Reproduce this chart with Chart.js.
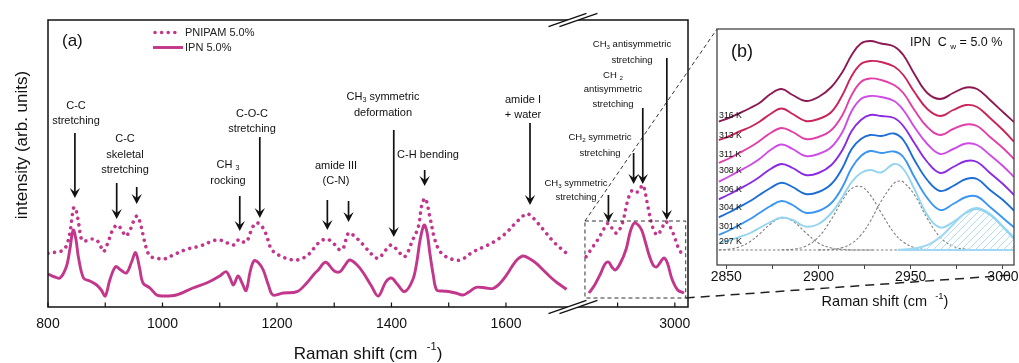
<!DOCTYPE html>
<html><head><meta charset="utf-8">
<script src="https://cdn.jsdelivr.net/npm/chart.js@4.4.1/dist/chart.umd.min.js"></script>
<style>
html,body{margin:0;padding:0;background:#fff;}
#wrap{position:relative;width:1019px;height:363px;overflow:hidden;background:#fff;}
#ca{position:absolute;left:0;top:0;}
#cb{position:absolute;left:700px;top:0;}
</style></head><body>
<div id="wrap"><canvas id="ca" width="1019" height="363"></canvas><canvas id="cb" width="319" height="363"></canvas></div>
<script>
// ---------------- DATA: panel (a) ----------------
const pnipamLeftX = [800,815,827,834,839,845,849,854,859,865,872,880,885,891,897,905,913,921,929,936,945,951,956,962,968,974,979,990,1001,1019,1042,1066,1089,1100,1112,1124,1130,1135,1141,1147,1154,1162,1170,1179,1185,1191,1211,1234,1252,1265,1275,1287,1298,1310,1316,1325,1335,1351,1365,1377,1390,1400,1410,1423,1437,1447,1453,1459,1467,1475,1485,1500,1520,1543,1565,1584,1600,1619,1635,1642,1656,1670,1683,1695,1706];
const pnipamLeftY = [53.7,55,57,64,77,99.7,97,82,67,66,67.7,68,67,62,55.3,65,77,82,77,71,79,88,91,82,67,55,50.3,49,47.7,52,57.7,61,66.3,67,64.3,62,66,67.7,65,65.3,75,83.7,83,75.3,66,57,49.7,47,51,59,65.3,68,64,57,59,74,71,62,53,48.7,57,62,57,50.3,67,80.3,102,108.7,90.3,69,55.3,49,47,55.3,61,67,74,85.3,93,92,83.7,74,65.3,59,53.7];
const pnipamRightX = [2845,2857,2865,2872,2883,2890,2898,2905,2910,2918,2926,2935,2944,2948,2953,2961,2969,2976,2984,2991,2997,3008,3017];
const pnipamRightY = [50.3,60.3,67,73.7,83.7,79,73.7,79,87,107,117,115,122,115,100.3,80.3,72,77,85.3,81,73.7,57,50.3];
const ipnLeftX = [800,812,821,832,838,844,849,853,862,873,885,893,900,908,918,927,937,946,953,960,966,978,990,1000,1024,1053,1077,1100,1111,1118,1124,1132,1139,1146,1153,1160,1168,1176,1185,1193,1211,1235,1252,1265,1272,1285,1300,1310,1318,1327,1340,1351,1365,1377,1390,1400,1410,1423,1437,1444,1450,1457,1462,1467,1473,1479,1490,1502,1512,1525,1535,1548,1565,1578,1590,1601,1610,1619,1630,1642,1653,1665,1677,1690,1706];
const ipnLeftY = [33,30,29,40.3,57,77,67,50.3,29,26,22,17,11,27,40.3,37,34,45,54.3,39,24,19,12,11,12,19,24,31,35.3,29,22,31,24,16.3,35,46.3,44,37,22,12,14,15.3,24,33,37,44.7,36,35.3,41,47,42,34,21,11,25,29,23,15.3,27,44,67,82,75,54,32,17,16,15.3,14,12,15,19.7,19,18.7,24,32,40,47,51,48,43.7,37,30.3,24,17.7];
const ipnRightX = [2850,2860,2870,2878,2884,2890,2896,2905,2915,2922,2929,2936,2942,2948,2955,2962,2968,2975,2981,2987,2995,3005,3016];
const ipnRightY = [14,22,33,43,45,40,37,44,58,75,84,82,77,66,52,42,40,45,49,44,28,17,14];
const seriesNamesA = ['PNIPAM 5.0%','IPN 5.0%'];
const aTickValues = [800,900,1000,1100,1200,1300,1400,1500,1600,2900,3000];
const aTickLabels = ['800','','1000','','1200','','1400','','1600','','3000'];

// ---------------- DATA: panel (b) ----------------
const bX = [2846,2852,2857,2863,2868,2874,2880,2886,2893,2900,2907,2913,2918,2923,2928,2934,2941,2946,2952,2959,2966,2973,2980,2986,2993,3000,3006];
const t316 = [143.3,147.5,151.7,157,162,171,176,170,164,168,178,193,210,221.5,224,221.5,218.5,210,191,172,166,172,177.5,176,165,153,143];
const t313 = [125,129,133.3,138,143.3,151,156.5,151,144,146,153,170,189,201,204,203,198.5,190,173,156,149,155,160,158,147,135,123.3];
const t311 = [102,107,112,118,124,132,137,133,126,128,135,150,170,183,186.5,185,180,172,155,138,130,136,140.5,139,128,117,106];
const t308 = [83.3,89,94,100,106,115,120.5,116,109,111,118,133,154,166,169,168,164,155,138,121,111,116,121.5,120,110,99,88];
const t306 = [65.7,71,76,82,88,96,101,97,90,92,100,115,134,145,150,149,147,139,122,103,92,98,104,103,92,81,70];
const t304 = [47.7,53,58,64,70,77,82.3,78,71,73,81,97,116,126,130,129,131.5,125,105,85,74,79,86,86,75,65,54.3];
const t301 = [30,35,40,46,52,59,64,60,52.3,54,62,78,97,109,114,112,113.5,108,88,67,55,61,68,68.5,58,47,37.7];
const t297 = [22,25,28,32,37,43,47.5,45,38.5,41,52,68,83,92,95,92.5,101,96,76,50,37.5,43,52,56,50,38,26];
const tempNames = ['316 K','313 K','311 K','308 K','306 K','304 K','301 K','297 K'];
const g1X = [2846,2852,2857,2863,2868,2874,2880,2886,2893,2900,2907,2913,2920,2930];
const g1Y = [15,16,18,23.5,31,41,47,44,32.5,22,17,15.5,15,15];
const g2X = [2880,2886,2893,2900,2907,2913,2918,2923,2928,2934,2941,2946,2952,2959,2966];
const g2Y = [15.2,15.8,18.8,27.9,45.8,64.8,76.4,78.5,70.2,52.2,32,23,17.5,15.5,15];
const g3X = [2900,2907,2913,2918,2923,2928,2934,2941,2944,2946,2952,2959,2966,2973,2980,2990];
const g3Y = [15.1,15.6,17.4,21.6,29.9,43.4,63.8,81.9,84,83,70.3,46.6,27.8,18.7,15.8,15];
const g4X = [2943,2952,2959,2966,2973,2980,2986,2993,3000,3006];
const g4Y = [15.2,16.4,19.8,27.9,40.5,52.8,57,51.3,38.5,27.9];
const fitBaseX = [2943,3006];
const fitBaseY = [15,15];
const grayBaseX = [2846,3006];
const grayBaseY = [15,15];
const bTickValues = [2850,2875,2900,2925,2950,2975,3000];
const bTickLabels = ['2850','','2900','','2950','','3000'];

// ---------------- helpers ----------------
const FONT = "'Liberation Sans', Arial, Helvetica, sans-serif";
const PINK = '#C2378B';
const BREAK_AT = 2000, BREAK_SHIFT = 1105;
const cx = v => v > BREAK_AT ? v - BREAK_SHIFT : v;
const ptsA = (xs, ys) => xs.map((v,i)=>({x:cx(v), y:ys[i]}));
const ptsB = (xs, ys) => xs.map((v,i)=>({x:v, y:ys[i]}));

function drawRich(ctx, str, x, y, size, align, color){
  const parts = []; const re = /(_\{[^}]*\}|\^\{[^}]*\})/g; let last = 0, m;
  while ((m = re.exec(str))) {
    if (m.index > last) parts.push({t:str.slice(last, m.index), k:0});
    parts.push({t:m[0].slice(2,-1), k: m[0][0]==='_' ? 1 : -1});
    last = re.lastIndex;
  }
  if (last < str.length) parts.push({t:str.slice(last), k:0});
  let w = 0;
  parts.forEach(p => { p.s = p.k ? size*0.65 : size; ctx.font = p.s + 'px ' + FONT; p.w = ctx.measureText(p.t).width; w += p.w; });
  let sx = align === 'center' ? x - w/2 : (align === 'right' ? x - w : x);
  ctx.fillStyle = color || '#111'; ctx.textBaseline = 'middle'; ctx.textAlign = 'left';
  parts.forEach(p => {
    ctx.font = p.s + 'px ' + FONT;
    const dy = p.k === 1 ? size*0.32 : (p.k === -1 ? -size*0.4 : 0);
    ctx.fillText(p.t, sx, y + dy); sx += p.w;
  });
}
function arrow(ctx, x, y0, y1){
  ctx.beginPath(); ctx.moveTo(x, y0); ctx.lineTo(x, y1-4);
  ctx.lineWidth = 1.7; ctx.strokeStyle = '#111'; ctx.setLineDash([]); ctx.stroke();
  ctx.beginPath(); ctx.moveTo(x, y1); ctx.lineTo(x-5.2, y1-10); ctx.lineTo(x, y1-6); ctx.lineTo(x+5.2, y1-10); ctx.closePath();
  ctx.fillStyle = '#111'; ctx.fill();
}
function line(ctx, x0, y0, x1, y1){ ctx.beginPath(); ctx.moveTo(x0,y0); ctx.lineTo(x1,y1); ctx.stroke(); }

const annotations = [
  {lines:['C-C','stretching'], cx:76, y:106, lh:15, size:11, arrows:[{v:847,y0:133,y1:198}]},
  {lines:['C-C','skeletal','stretching'], cx:125, y:139, lh:15.5, size:11, arrows:[{v:920,y0:183,y1:219},{v:955,y0:187,y1:204}]},
  {lines:['CH _{3}','rocking'], cx:228, y:165, lh:16, size:11, arrows:[{v:1135,y0:196,y1:231}]},
  {lines:['C-O-C','stretching'], cx:252, y:114, lh:15, size:11, arrows:[{v:1170,y0:137,y1:218}]},
  {lines:['amide III','(C-N)'], cx:336, y:166, lh:15, size:11, arrows:[{v:1288,y0:200,y1:230},{v:1325,y0:201,y1:222}]},
  {lines:['CH_{3} symmetric','deformation'], cx:383, y:97, lh:16, size:11, arrows:[{v:1404,y0:130,y1:237}]},
  {lines:['C-H bending'], cx:428, y:155, lh:15, size:11, arrows:[{v:1458,y0:170,y1:186}]},
  {lines:['amide I','+ water'], cx:523, y:100, lh:15, size:11, arrows:[{v:1642,y0:123,y1:205}]},
  {lines:['CH_{3} antisymmetric','stretching'], cx:632, y:44, lh:16, size:9.5, arrows:[{v:2986,y0:58,y1:220}]},
  {lines:['CH _{2}','antisymmetric','stretching'], cx:613, y:75, lh:14.5, size:9.5, arrows:[{v:2944,y0:108,y1:184}]},
  {lines:['CH_{2} symmetric','stretching'], cx:600, y:137, lh:16, size:9.5, arrows:[{v:2928,y0:153,y1:184}]},
  {lines:['CH_{3} symmetric','stretching'], cx:576, y:183, lh:14.5, size:9.5, arrows:[{v:2884,y0:195,y1:222}]}
];

const dotStyle = {borderColor:PINK, borderWidth:3.6, borderDash:[0.01,6.6], borderCapStyle:'round', tension:0.35, pointRadius:0, fill:false};
const solidStyle = {borderColor:PINK, borderWidth:2.9, tension:0.35, pointRadius:0, fill:false, borderJoinStyle:'round'};

const panelAPlugin = {
  id:'panelA',
  afterDraw(chart){
    const ctx = chart.ctx, a = chart.chartArea, x = chart.scales.x, y = chart.scales.y;
    ctx.save();
    ctx.strokeStyle = '#111'; ctx.lineWidth = 1.5; ctx.setLineDash([]);
    ctx.strokeRect(a.left, a.top, a.right - a.left, a.bottom - a.top);
    ctx.lineWidth = 1.2;
    x.ticks.forEach(t => { const px = x.getPixelForValue(t.value); line(ctx, px, a.bottom, px, a.bottom - 4.5); });
    const xb = x.getPixelForValue(1717);
    [a.top, a.bottom].forEach(yc => {
      ctx.fillStyle = '#fff';
      ctx.beginPath();
      ctx.moveTo(xb-5.5-19, yc+6.7); ctx.lineTo(xb-5.5+19, yc-6.7); ctx.lineTo(xb+5.5+19, yc-6.7); ctx.lineTo(xb+5.5-19, yc+6.7);
      ctx.closePath(); ctx.fill();
      ctx.strokeStyle = '#111'; ctx.lineWidth = 1.3;
      line(ctx, xb-5.5-19, yc+6.7, xb-5.5+19, yc-6.7);
      line(ctx, xb+5.5-19, yc+6.7, xb+5.5+19, yc-6.7);
    });
    const bx0 = x.getPixelForValue(cx(2843)), bx1 = x.getPixelForValue(cx(3019));
    const by0 = y.getPixelForValue(86), by1 = y.getPixelForValue(9);
    ctx.strokeStyle = '#333'; ctx.lineWidth = 1; ctx.setLineDash([4,3]);
    ctx.strokeRect(bx0, by0, bx1 - bx0, by1 - by0);
    line(ctx, bx0, by0, 717, 29);
    ctx.setLineDash([9,6]); ctx.lineWidth = 1.5; ctx.strokeStyle = '#222';
    line(ctx, bx1, by1, 1012, 275);
    ctx.setLineDash([]);
    annotations.forEach(an => {
      an.lines.forEach((s, i) => drawRich(ctx, s, an.cx, an.y + i*an.lh, an.size, 'center', '#111'));
      an.arrows.forEach(ar => arrow(ctx, x.getPixelForValue(cx(ar.v)), ar.y0, ar.y1));
    });
    ctx.strokeStyle = PINK; ctx.lineWidth = 3.6; ctx.lineCap = 'round'; ctx.setLineDash([0.01,6.6]);
    line(ctx, 155, 32.5, 181, 32.5);
    ctx.setLineDash([]); ctx.lineCap = 'butt'; ctx.lineWidth = 2.9;
    line(ctx, 153, 47.5, 183, 47.5);
    drawRich(ctx, seriesNamesA[0], 185, 33, 11, 'left', '#222');
    drawRich(ctx, seriesNamesA[1], 185, 48, 11, 'left', '#222');
    drawRich(ctx, '(a)', 62, 41, 17, 'left', '#111');
    drawRich(ctx, 'Raman shift (cm  ^{-1})', 368, 354, 17, 'center', '#111');
    ctx.save(); ctx.translate(22, 145); ctx.rotate(-Math.PI/2);
    drawRich(ctx, 'intensity (arb. units)', 0, 0, 17, 'center', '#111');
    ctx.restore();
    ctx.restore();
  }
};

new Chart(document.getElementById('ca'), {
  type:'line',
  data:{datasets:[
    Object.assign({label:seriesNamesA[0], data:ptsA(pnipamLeftX, pnipamLeftY)}, dotStyle),
    Object.assign({label:seriesNamesA[0], data:ptsA(pnipamRightX, pnipamRightY)}, dotStyle),
    Object.assign({label:seriesNamesA[1], data:ptsA(ipnLeftX, ipnLeftY)}, solidStyle),
    Object.assign({label:seriesNamesA[1], data:ptsA(ipnRightX, ipnRightY)}, solidStyle)
  ]},
  options:{
    responsive:false, animation:false, devicePixelRatio:1, events:[],
    layout:{padding:{left:48, right:331, top:20, bottom:0}},
    plugins:{legend:{display:false}, tooltip:{enabled:false}},
    scales:{
      x:{type:'linear', min:800, max:cx(3023),
        afterBuildTicks: s => { s.ticks = aTickValues.map(v => ({value:cx(v)})); },
        afterFit: s => { s.height = 56; },
        grid:{drawOnChartArea:false, drawTicks:false},
        border:{display:false},
        ticks:{autoSkip:false, maxRotation:0, minRotation:0, padding:9, color:'#111', font:{family:FONT, size:14},
          callback: v => { const i = aTickValues.findIndex(t => cx(t) === v); return i >= 0 ? aTickLabels[i] : ''; }}
      },
      y:{display:false, min:0, max:287}
    }
  },
  plugins:[panelAPlugin]
});

// ---------------- panel (b) ----------------
const cbEl = document.getElementById('cb');
const pc = document.createElement('canvas'); pc.width = 7; pc.height = 7;
const pctx = pc.getContext('2d');
pctx.strokeStyle = '#B2DDF3'; pctx.lineWidth = 1;
pctx.beginPath(); pctx.moveTo(0,7); pctx.lineTo(7,0); pctx.moveTo(-1,1); pctx.lineTo(1,-1); pctx.moveTo(6,8); pctx.lineTo(8,6); pctx.stroke();
const hatch = cbEl.getContext('2d').createPattern(pc, 'repeat');

const tempSeries = [t316,t313,t311,t308,t306,t304,t301,t297];
const tempColors = ['#8C1A52','#C9255A','#E23FA8','#CE4BE6','#8A2BE2','#1C6ED6','#3A96F2','#93D4F0'];
const tempLabelY = [116,136,155,171,190,208,227,242];
const gaussStyle = {borderColor:'#7d7d7d', borderWidth:1.1, borderDash:[2.5,2], tension:0.4, pointRadius:0, fill:false};

const dsB = tempSeries.map((s,i) => ({label:tempNames[i], data:ptsB(bX, s), borderColor:tempColors[i], borderWidth:1.9, tension:0.4, pointRadius:0, fill:false}));
dsB.push({label:'fit 4', data:ptsB(g4X, g4Y), borderColor:'#9ED8F2', borderWidth:2, tension:0.4, pointRadius:0, fill:{value:15}, backgroundColor:hatch});
dsB.push({label:'fit base', data:ptsB(fitBaseX, fitBaseY), borderColor:'#9ED8F2', borderWidth:2, pointRadius:0, fill:false});
dsB.push(Object.assign({label:'fit 1', data:ptsB(g1X, g1Y)}, gaussStyle));
dsB.push(Object.assign({label:'fit 2', data:ptsB(g2X, g2Y)}, gaussStyle));
dsB.push(Object.assign({label:'fit 3', data:ptsB(g3X, g3Y)}, gaussStyle));
dsB.push(Object.assign({label:'baseline', data:ptsB(grayBaseX, grayBaseY)}, gaussStyle, {tension:0}));

const panelBPlugin = {
  id:'panelB',
  afterDraw(chart){
    const ctx = chart.ctx, a = chart.chartArea;
    ctx.save();
    ctx.strokeStyle = '#444'; ctx.lineWidth = 1.3; ctx.setLineDash([]);
    ctx.strokeRect(a.left, a.top, a.right - a.left, a.bottom - a.top);
    drawRich(ctx, '(b)', 31, 52, 18, 'left', '#111');
    drawRich(ctx, 'IPN  C _{w} = 5.0 %', 210, 43, 12.5, 'left', '#111');
    tempNames.forEach((n,i) => drawRich(ctx, n, 19, tempLabelY[i], 8.8, 'left', '#111'));
    drawRich(ctx, 'Raman shift (cm  ^{-1})', 185, 302, 14.5, 'center', '#111');
    ctx.restore();
  }
};

new Chart(cbEl, {
  type:'line',
  data:{datasets:dsB},
  options:{
    responsive:false, animation:false, devicePixelRatio:1, events:[],
    layout:{padding:{left:17, right:5, top:29, bottom:0}},
    plugins:{legend:{display:false}, tooltip:{enabled:false}},
    scales:{
      x:{type:'linear', min:2845, max:3006,
        afterBuildTicks: s => { s.ticks = bTickValues.map(v => ({value:v})); },
        afterFit: s => { s.height = 98; },
        grid:{drawOnChartArea:false, drawTicks:true, tickLength:4, color:'#444', lineWidth:1},
        border:{display:false},
        ticks:{autoSkip:false, maxRotation:0, minRotation:0, padding:0, color:'#111', font:{family:FONT, size:14},
          callback: v => { const i = bTickValues.indexOf(v); return i >= 0 ? bTickLabels[i] : ''; }}
      },
      y:{display:false, min:0, max:236}
    }
  },
  plugins:[panelBPlugin]
});
</script></body></html>
